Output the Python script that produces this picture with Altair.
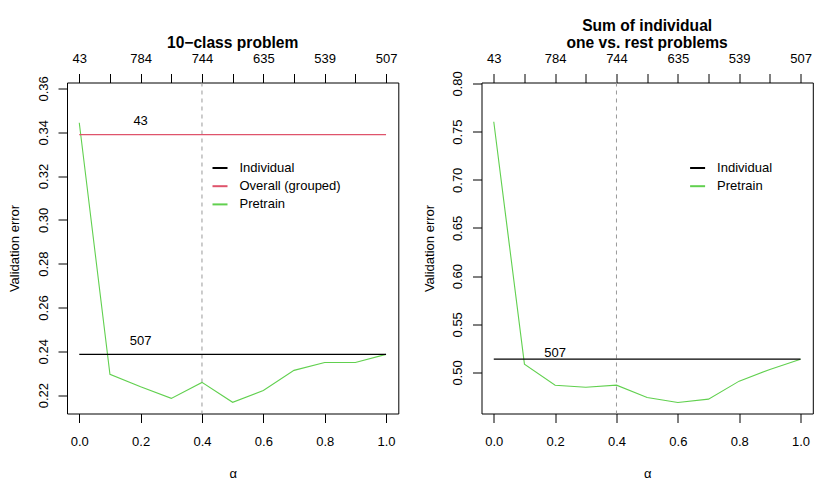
import altair as alt
import pandas as pd

FONT = "Liberation Sans"

# ---- data ----
ALPHA = [0.0, 0.1, 0.2, 0.3, 0.4, 0.5, 0.6, 0.7, 0.8, 0.9, 1.0]
LEFT_PRETRAIN = [0.3443, 0.2295, 0.2238, 0.2185, 0.2258, 0.2167, 0.2221, 0.2313, 0.2349, 0.2349, 0.2386]
LEFT_INDIVIDUAL = 0.2386
LEFT_OVERALL = 0.3389
RIGHT_PRETRAIN = [0.7603, 0.5086, 0.4868, 0.4847, 0.4868, 0.4740, 0.4688, 0.4723, 0.4910, 0.5031, 0.5138]
RIGHT_INDIVIDUAL = 0.5138

TOP_LABELS = ["43", "784", "744", "635", "539", "507"]
TOP_LABEL_POS = [0.0, 0.2, 0.4, 0.6, 0.8, 1.0]
BOTTOM_TICKS = [0.0, 0.2, 0.4, 0.6, 0.8, 1.0]
LEFT_YTICKS = [0.22, 0.24, 0.26, 0.28, 0.30, 0.32, 0.34, 0.36]
RIGHT_YTICKS = [0.50, 0.55, 0.60, 0.65, 0.70, 0.75, 0.80]
CHOSEN_ALPHA = [0.4]

LEFT_SERIES = ["Individual", "Overall (grouped)", "Pretrain"]
LEFT_COLORS = ["#000000", "#DF536B", "#61D04F"]
RIGHT_SERIES = ["Individual", "Pretrain"]
RIGHT_COLORS = ["#000000", "#61D04F"]

LEFT_LINE_LABELS = ["43", "507"]
LEFT_LINE_LABEL_VALUES = [LEFT_OVERALL, LEFT_INDIVIDUAL]
RIGHT_LINE_LABELS = ["507"]
RIGHT_LINE_LABEL_VALUES = [RIGHT_INDIVIDUAL]
LINE_LABEL_ALPHA = 0.2
LINE_LABEL_OFFSET = 0.006

W, H = 331.3, 331
FS = 13
TFS = 15.6

top_expr = " : ".join(
    f"abs(datum.value - {p}) < 1e-6 ? '{l}'" for p, l in zip(TOP_LABEL_POS, TOP_LABELS)
) + " : ''"

common_axis = dict(
    domain=False, grid=False, ticks=True, tickSize=9, tickColor="black", tickWidth=1,
    labelFont=FONT, labelFontSize=FS, labelColor="black", labelFlush=False,
    labelOverlap=False, titleFont=FONT, titleFontSize=FS, titleFontWeight="normal",
    titleColor="black",
)


def panel(title, pretrain, hlines, series, colors, lab_texts, lab_vals,
          ydomain, yticks, legend_x):
    rows = []
    for a, v in zip(ALPHA, pretrain):
        rows.append({"alpha": a, "value": v, "series": "Pretrain"})
    for name, v in hlines:
        rows.append({"alpha": ALPHA[0], "value": v, "series": name})
        rows.append({"alpha": ALPHA[-1], "value": v, "series": name})
    df = pd.DataFrame(rows)

    xs = alt.Scale(domain=[-0.04, 1.04], nice=False, zero=False)
    ys = alt.Scale(domain=ydomain, nice=False, zero=False)
    yaxis = alt.Axis(
        values=yticks, format=".2f", title="Validation error",
        labelAngle=270, labelAlign="center", labelBaseline="alphabetic", labelPadding=11,
        titleAngle=270, titleAlign="center", titleBaseline="alphabetic",
        titleX=-48.3, titleY=H / 2, **common_axis,
    )
    xaxis = alt.Axis(
        values=BOTTOM_TICKS, format=".1f", title="α", orient="bottom",
        labelBaseline="alphabetic", labelPadding=22.7,
        titleBaseline="alphabetic", titleY=64.4, titleX=W / 2, titleAlign="center",
        **common_axis,
    )
    topaxis = alt.Axis(
        values=ALPHA, labelExpr=top_expr, title=None, orient="top",
        labelBaseline="alphabetic", labelPadding=11, **common_axis,
    )

    lines = alt.Chart(df).mark_line(strokeWidth=1.1).encode(
        x=alt.X("alpha:Q", scale=xs, axis=xaxis),
        y=alt.Y("value:Q", scale=ys, axis=yaxis),
        color=alt.Color(
            "series:N",
            scale=alt.Scale(domain=series, range=colors),
            legend=alt.Legend(
                orient="none", legendX=legend_x, legendY=77, title=None,
                symbolType="stroke", symbolSize=225, symbolStrokeWidth=2,
                labelFont=FONT, labelFontSize=FS, labelColor="black",
                labelOffset=11, rowPadding=2.2, padding=0,
            ),
            sort=series,
        ),
        detail="series:N",
    )

    vdf = pd.DataFrame({"alpha": CHOSEN_ALPHA})
    vline = alt.Chart(vdf).mark_rule(color="#9a9a9a", strokeDash=[4, 4], strokeWidth=1).encode(
        x=alt.X("alpha:Q", scale=xs, axis=topaxis),
    )

    tdf = pd.DataFrame({
        "alpha": [LINE_LABEL_ALPHA] * len(lab_texts),
        "value": [v + LINE_LABEL_OFFSET for v in lab_vals],
        "text": lab_texts,
    })
    texts = alt.Chart(tdf).mark_text(
        font=FONT, fontSize=FS, color="black", baseline="middle", align="center"
    ).encode(
        x=alt.X("alpha:Q", scale=xs, axis=None),
        y=alt.Y("value:Q", scale=ys, axis=yaxis),
        text="text:N",
    )

    return alt.layer(vline, lines, texts).resolve_axis(x="independent").properties(
        width=W, height=H,
        title=alt.TitleParams(
            text=title, font=FONT, fontSize=TFS, fontWeight="bold", color="black",
            anchor="middle", baseline="bottom", lineHeight=17.5, offset=-14.5,
        ),
    )


left = panel(
    "10\u2212class problem", LEFT_PRETRAIN,
    [("Individual", LEFT_INDIVIDUAL), ("Overall (grouped)", LEFT_OVERALL)],
    LEFT_SERIES, LEFT_COLORS, LEFT_LINE_LABELS, LEFT_LINE_LABEL_VALUES,
    [0.2116, 0.3627], LEFT_YTICKS, 144.5,
)
right = panel(
    ["Sum of individual", "one vs. rest problems"], RIGHT_PRETRAIN,
    [("Individual", RIGHT_INDIVIDUAL)],
    RIGHT_SERIES, RIGHT_COLORS, RIGHT_LINE_LABELS, RIGHT_LINE_LABEL_VALUES,
    [0.4574, 0.801], RIGHT_YTICKS, 207.6,
)

chart = alt.hconcat(left, right, spacing=23.5).resolve_scale(color="independent").properties(
    padding={"left": 0, "top": 9.5, "right": 0, "bottom": 0},
    background="white",
).configure_view(stroke="black", strokeWidth=1)

chart.save("out.html", embed_options={"renderer": "svg", "actions": False})
